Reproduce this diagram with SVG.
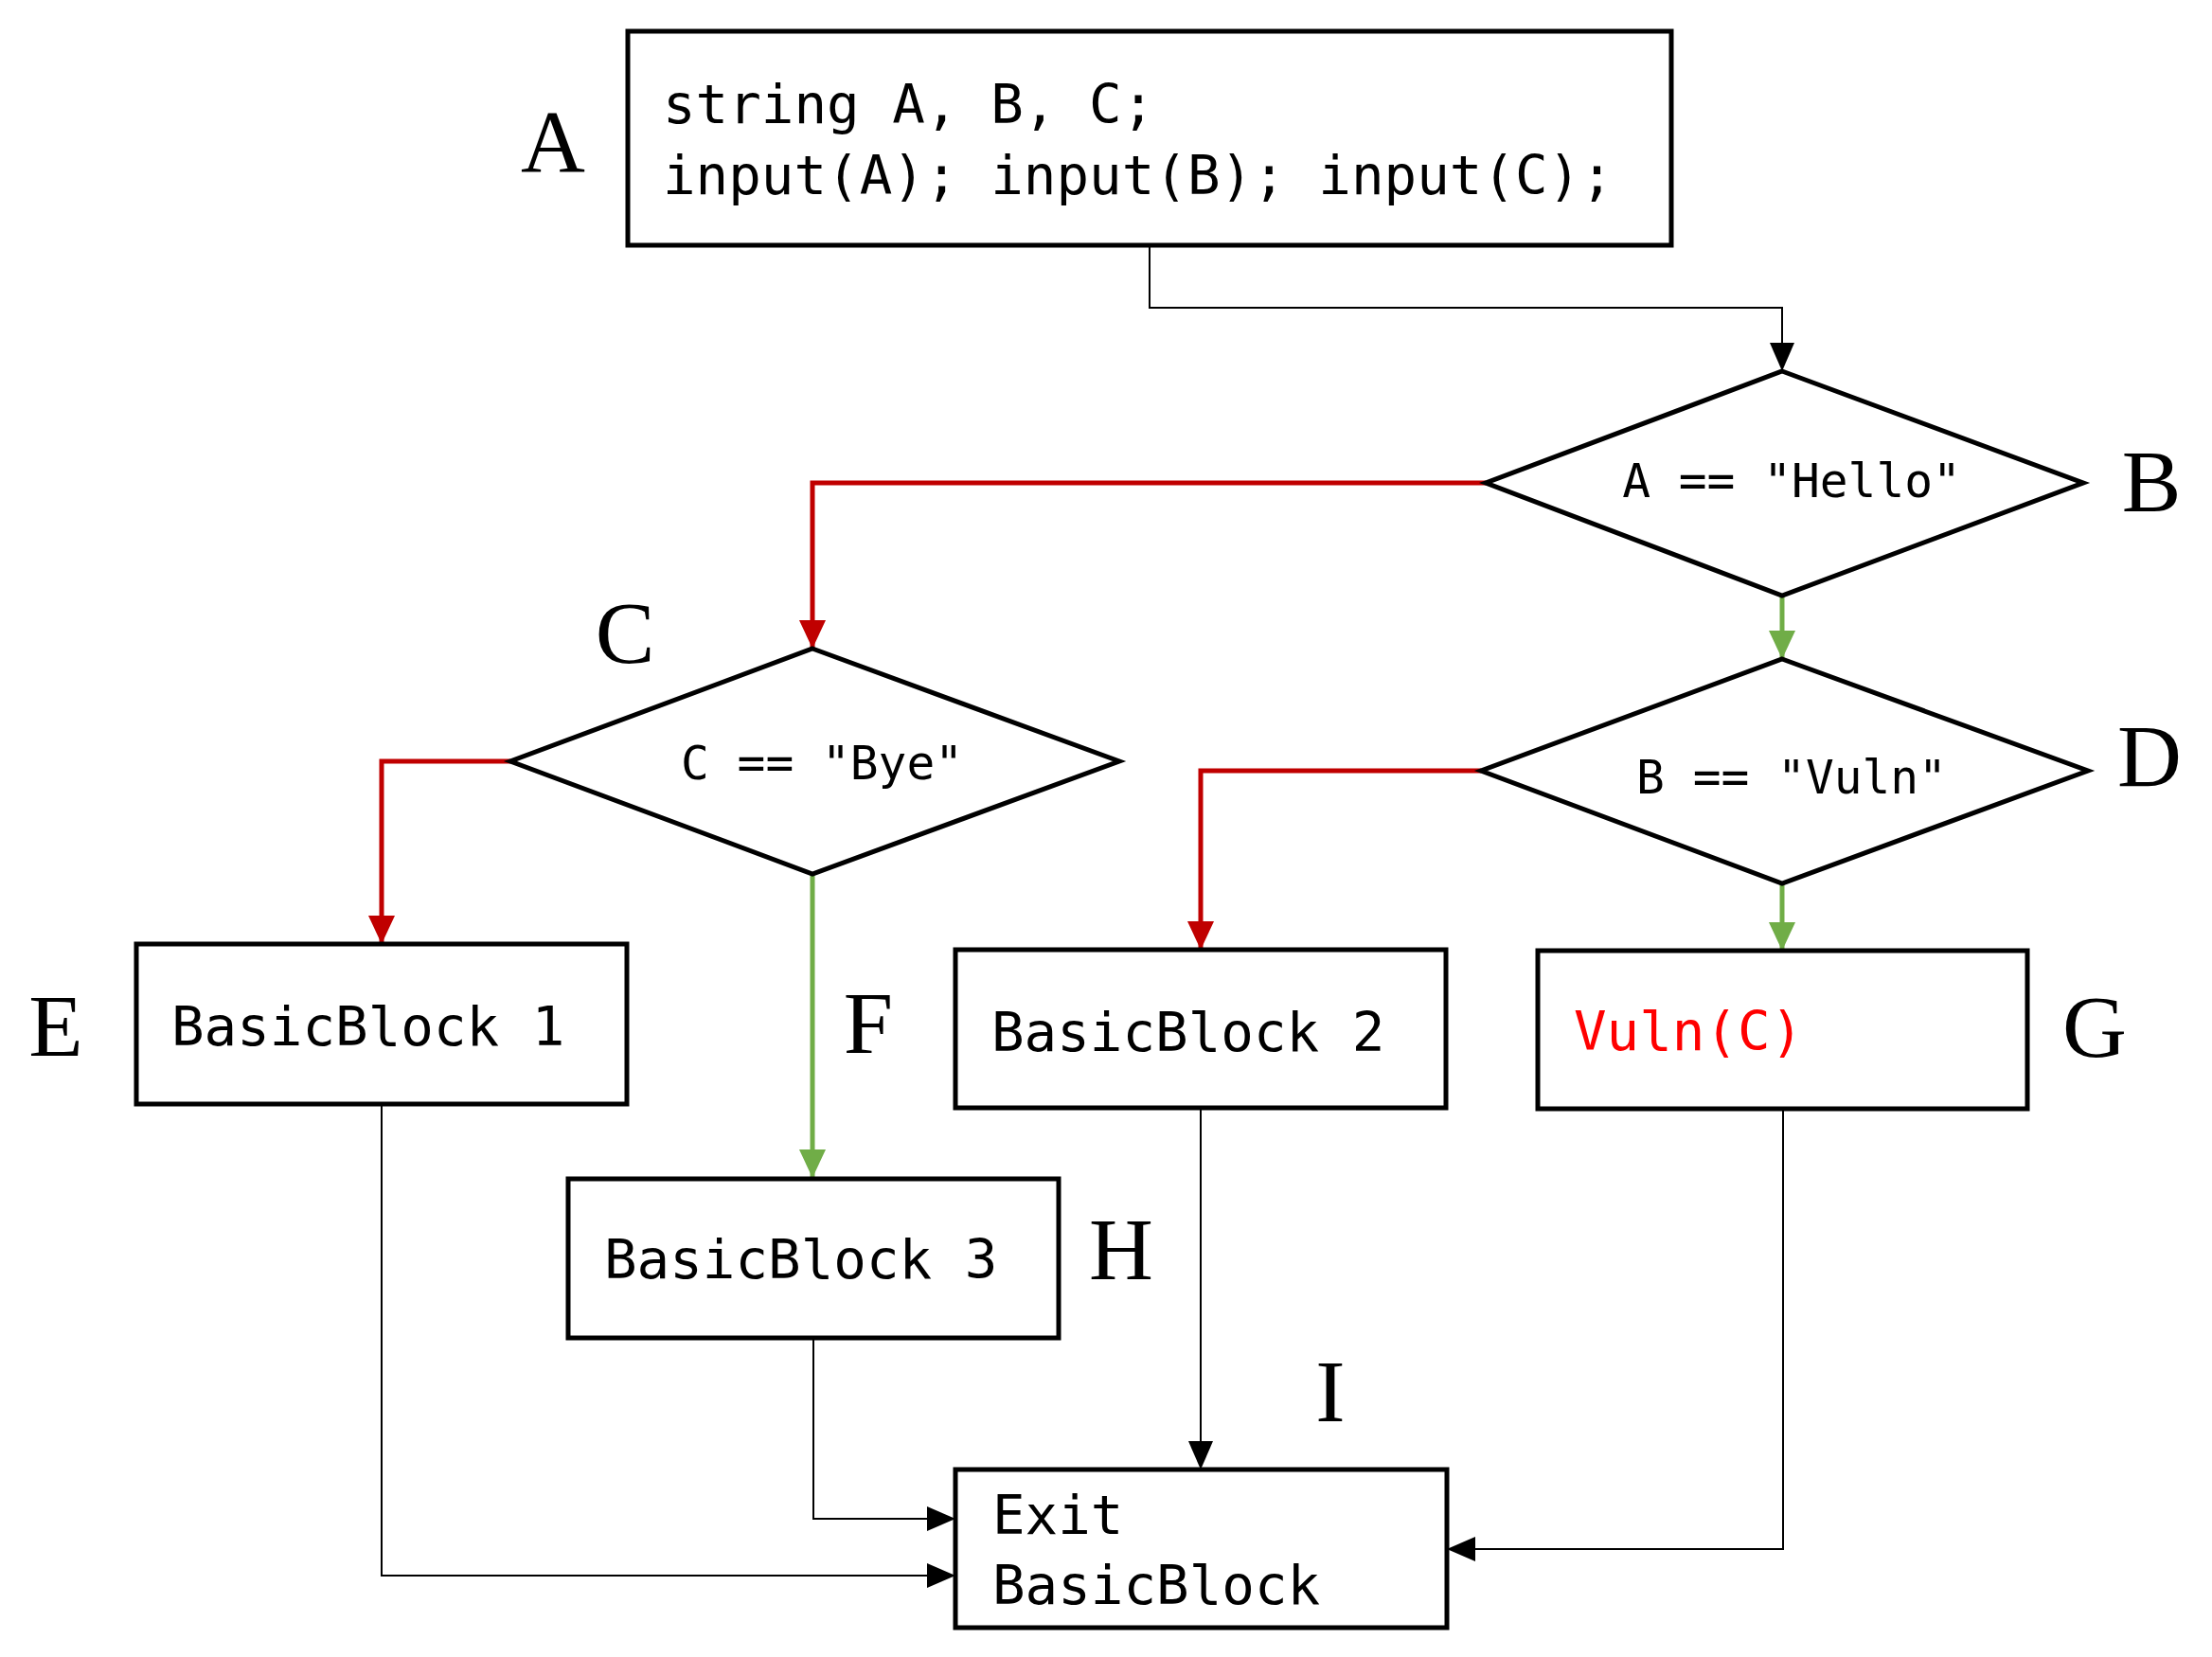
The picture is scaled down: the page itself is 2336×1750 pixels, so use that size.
<svg xmlns="http://www.w3.org/2000/svg" width="2336" height="1750" viewBox="0 0 2336 1750">
<style>
.box{fill:#fff;stroke:#000;stroke-width:5}
.code{font-family:"DejaVu Sans Mono","Liberation Mono",monospace;font-size:57.5px;fill:#000}
.cond{font-family:"DejaVu Sans Mono","Liberation Mono",monospace;font-size:49.5px;fill:#000}
.lbl{font-family:"Liberation Serif","Times New Roman",serif;font-size:94px;fill:#000;text-anchor:middle}
.blk{fill:none;stroke:#000;stroke-width:2}
.red{fill:none;stroke:#C00000;stroke-width:5}
.grn{fill:none;stroke:#70AD47;stroke-width:5}
</style>
<defs>
<marker id="ak" markerUnits="userSpaceOnUse" markerWidth="30" markerHeight="26" refX="30" refY="13" orient="auto"><path d="M0,0 L30,13 L0,26 Z" fill="#000"/></marker>
<marker id="ar" markerUnits="userSpaceOnUse" markerWidth="30" markerHeight="28" refX="30" refY="14" orient="auto"><path d="M0,0 L30,14 L0,28 Z" fill="#C00000"/></marker>
<marker id="ag" markerUnits="userSpaceOnUse" markerWidth="30" markerHeight="28" refX="30" refY="14" orient="auto"><path d="M0,0 L30,14 L0,28 Z" fill="#70AD47"/></marker>
</defs>
<g id="connectors">
<path class="blk" d="M1214,259 V325 H1882 V392" marker-end="url(#ak)"/>
<path class="red" d="M1569,510 H858 V685" marker-end="url(#ar)"/>
<path class="grn" d="M1882,629 V696" marker-end="url(#ag)"/>
<path class="red" d="M1564,814 H1268 V1003" marker-end="url(#ar)"/>
<path class="grn" d="M1882,933 V1004" marker-end="url(#ag)"/>
<path class="red" d="M539,804 H403 V997" marker-end="url(#ar)"/>
<path class="grn" d="M858,924 V1244" marker-end="url(#ag)"/>
<path class="blk" d="M403,1166 V1664 H1009" marker-end="url(#ak)"/>
<path class="blk" d="M859,1414 V1604 H1009" marker-end="url(#ak)"/>
<path class="blk" d="M1268,1170 V1552" marker-end="url(#ak)"/>
<path class="blk" d="M1883,1171 V1636 H1528" marker-end="url(#ak)"/>
</g>
<g id="nodeA">
<rect class="box" x="663" y="33" width="1102" height="226"/>
<text class="code" x="700" y="130">string A, B, C;</text>
<text class="code" x="700" y="205">input(A); input(B); input(C);</text>
<text class="lbl" x="584" y="181">A</text>
</g>
<g id="nodeB">
<polygon class="box" points="1882,392 2200,510 1882,629 1569,510"/>
<text class="cond" x="1892" y="525" text-anchor="middle">A == "Hello"</text>
<text class="lbl" x="2272" y="540">B</text>
</g>
<g id="nodeC">
<polygon class="box" points="858,685 1182,804 858,923 539,804"/>
<text class="cond" x="868" y="823" text-anchor="middle">C == "Bye"</text>
<text class="lbl" x="660" y="700">C</text>
</g>
<g id="nodeD">
<polygon class="box" points="1882,696 2205,814 1882,933 1564,814"/>
<text class="cond" x="1892" y="838" text-anchor="middle">B == "Vuln"</text>
<text class="lbl" x="2270" y="830">D</text>
</g>
<g id="nodeE">
<rect class="box" x="144" y="997" width="518" height="169"/>
<text class="code" x="181" y="1104">BasicBlock 1</text>
<text class="lbl" x="59" y="1115">E</text>
</g>
<g id="nodeF">
<text class="lbl" x="917" y="1112">F</text>
</g>
<g id="nodeBB2">
<rect class="box" x="1009" y="1003" width="518" height="167"/>
<text class="code" x="1047" y="1110">BasicBlock 2</text>
</g>
<g id="nodeG">
<rect class="box" x="1624" y="1004" width="517" height="167"/>
<text class="code" x="1662" y="1109" style="fill:#FF0000">Vuln(C)</text>
<text class="lbl" x="2212" y="1116">G</text>
</g>
<g id="nodeH">
<rect class="box" x="600" y="1245" width="518" height="168"/>
<text class="code" x="638" y="1350">BasicBlock 3</text>
<text class="lbl" x="1184" y="1351">H</text>
</g>
<g id="nodeI">
<rect class="box" x="1009" y="1552" width="519" height="167"/>
<text class="code" x="1048" y="1620">Exit</text>
<text class="code" x="1048" y="1694">BasicBlock</text>
<text class="lbl" x="1405" y="1501">I</text>
</g>
</svg>
